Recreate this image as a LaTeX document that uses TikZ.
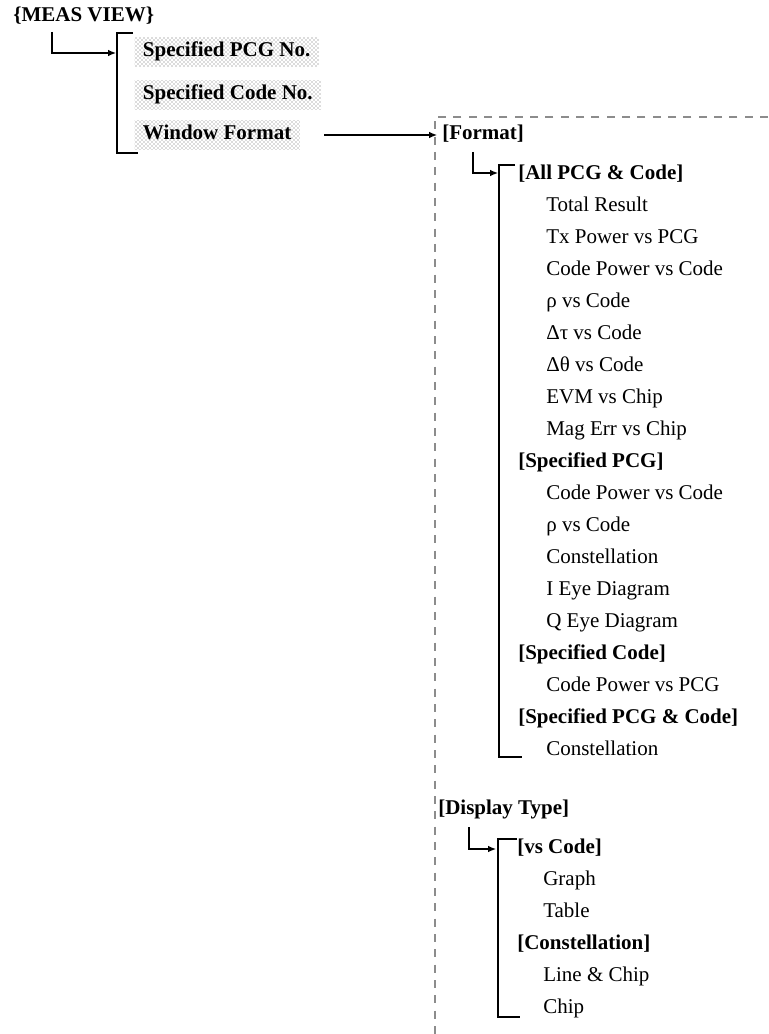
\documentclass[tikz,border=0pt]{standalone}
\usepackage{fontspec}
\setmainfont{Liberation Serif}
\usetikzlibrary{arrows.meta}
\usetikzlibrary{patterns}
\tikzset{
  txt/.style={anchor=west, inner sep=0pt, text height=11pt, text depth=4pt,
    font=\fontsize{15.75pt}{19pt}\selectfont},
  head/.style={txt, font=\fontsize{15.75pt}{19pt}\selectfont\bfseries},
  hilite/.style={head, inner xsep=6.5pt, minimum height=21.75pt,
    pattern=crosshatch dots, pattern color=black!60},
  bracket/.style={line width=1.4pt},
  elbow/.style={line width=0.9pt, -{Latex[length=6pt,width=5pt]}},
  frame/.style={color=black!45, line width=0.8pt, dash pattern=on 6pt off 5.5pt}
}

\begin{document}
\begin{tikzpicture}[x=0.75pt,y=-0.75pt]
\useasboundingbox (0,0) rectangle (768,1034);

% top menu
\node[head] (meas) at (13,17) {\{MEAS VIEW\}};
\coordinate (measdrop) at (52,32);
\coordinate (menuin) at (116,53);
\draw[bracket] (133,33) -- (117,33) -- (117,153) -- (138,153);
\draw[elbow] (measdrop) |- (menuin);

\node[hilite] (pcgno) at (134,52) {Specified PCG No.};
\node[hilite] (codeno) at (134,95) {Specified Code No.};
\node[hilite] (winfmt) at (134,135) {Window Format};

\draw[frame] (768,117) -- (435,117) -- (435,1034);

% format
\node[head, inner xsep=3.75pt] (format) at (437,135) {[Format]};
\draw[elbow] ([xshift=18pt]winfmt.east) -- (format.west);

\coordinate (fmtdrop) at (473,152);
\coordinate (fmtin) at (498,173);
\draw[bracket] (515,165) -- (499,165) -- (499,757) -- (522,757);
\draw[elbow] (fmtdrop) |- (fmtin);

\foreach \r/\t in {0/{[All PCG \& Code]}, 9/{[Specified PCG]}, 15/{[Specified Code]}, 17/{[Specified PCG \& Code]}}{
  \node[head] (fmthead\r) at (518,{175+32*\r}) {\t};
}
\foreach \r/\t in {1/Total Result, 2/Tx Power vs PCG, 3/Code Power vs Code, 4/ρ vs Code,
  5/Δτ vs Code, 6/Δθ vs Code, 7/EVM vs Chip, 8/Mag Err vs Chip,
  10/Code Power vs Code, 11/ρ vs Code, 12/Constellation, 13/I Eye Diagram, 14/Q Eye Diagram,
  16/Code Power vs PCG, 18/Constellation}{
  \node[txt] (fmtitem\r) at (546,{175+32*\r}) {\t};
}

% display type
\node[head] (disp) at (438,810) {[Display Type]};
\coordinate (dispdrop) at (469,827);
\coordinate (dispin) at (496,849);
\draw[bracket] (517,839) -- (498,839) -- (498,1017) -- (520,1017);
\draw[elbow] (dispdrop) |- (dispin);

\foreach \r/\t in {0/{[vs Code]}, 3/{[Constellation]}}{
  \node[head] (disphead\r) at (517,{849+32*\r}) {\t};
}
\foreach \r/\t in {1/Graph, 2/Table, 4/Line \& Chip, 5/Chip}{
  \node[txt] (dispitem\r) at (543,{849+32*\r}) {\t};
}
\end{tikzpicture}
\end{document}
